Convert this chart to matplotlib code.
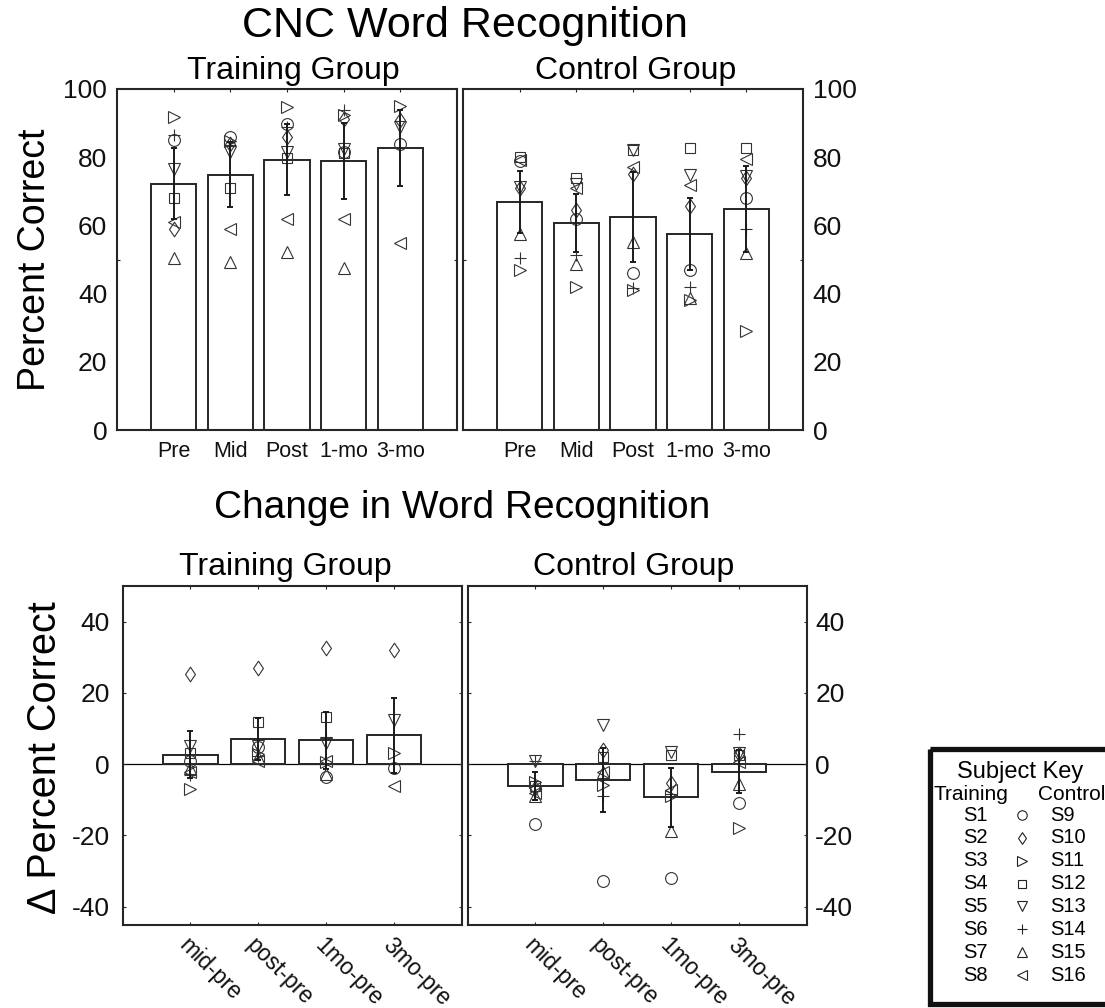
import numpy as np
import matplotlib
matplotlib.use('Agg')
import matplotlib.pyplot as plt
from matplotlib.patches import Rectangle
from matplotlib.path import Path

plt.rcParams['font.family'] = ['Liberation Sans', 'DejaVu Sans']
plt.rcParams['axes.unicode_minus'] = False

W, H = 1105, 1008
INK = '#262626'

sessions = ['Pre', 'Mid', 'Post', '1-mo', '3-mo']
changes = ['mid-pre', 'post-pre', '1mo-pre', '3mo-pre']

# wide-ish diamond, closer to the usual plotting-package symbol than 'd'
diamond = Path([(0, 1), (0.68, 0), (0, -1), (-0.68, 0), (0, 1)],
               [Path.MOVETO, Path.LINETO, Path.LINETO, Path.LINETO,
                Path.CLOSEPOLY])

# one marker per subject pair (training S1-S8 / control S9-S16)
markers = ['o', diamond, '>', 's', 'v', '+', '^', '<']
marker_sizes = [8.5, 10.5, 8.5, 7, 8.5, 8.5, 8.5, 8.5]
train_ids = ['S1', 'S2', 'S3', 'S4', 'S5', 'S6', 'S7', 'S8']
ctrl_ids = ['S9', 'S10', 'S11', 'S12', 'S13', 'S14', 'S15', 'S16']

# percent correct per subject, in subject order
train_pre = [85.0, 58.8, 91.8, 67.9, 76.5, 86.6, 50.3, 61.0]
train_mid = [86.0, 84.0, 84.8, 71.0, 81.5, 83.6, 49.3, 58.8]
train_post = [89.8, 85.9, 94.7, 79.8, 81.5, 88.9, 52.2, 61.8]
train_1mo = [81.5, 91.3, 92.3, 81.1, 82.5, 93.9, 47.4, 61.8]
train_3mo = [84.0, 90.8, 94.9, np.nan, 88.9, np.nan, np.nan, 54.9]

ctrl_pre = [78.9, 71.1, 46.9, 80.1, 71.3, 50.3, 57.4, 79.1]
ctrl_mid = [62.0, 64.5, 42.0, 74.0, 72.1, 51.3, 48.6, 71.1]
ctrl_post = [46.1, 75.0, 41.0, 82.0, 82.2, 41.5, 55.2, 77.0]
ctrl_1mo = [46.9, 65.7, 38.1, 82.7, 74.7, 42.0, 38.6, 71.8]
ctrl_3mo = [67.9, 74.0, 29.1, 82.8, 74.4, 58.8, 51.8, 79.6]

# 95% confidence half-widths
train_ci = [10.5, 9.6, 10.3, 11.2, 11.0]
ctrl_ci = [9.2, 8.5, 13.3, 10.5, 12.5]
train_change_ci = [6.6, 6.0, 8.0, 10.5]
ctrl_change_ci = [3.9, 9.0, 8.2, 6.0]


def px_rect(x0, y0, x1, y1):
    return [x0 / W, 1 - y1 / H, (x1 - x0) / W, (y1 - y0) / H]


def style_axes(ax):
    for s in ax.spines.values():
        s.set_color(INK)
        s.set_linewidth(1.5)


def draw_group(ax, table, ci, labels):
    table = np.array(table, dtype=float)     # sessions x subjects
    x = np.arange(1, table.shape[0] + 1)
    means = np.nanmean(table, axis=1)
    ax.bar(x, means, width=0.8, facecolor='white', edgecolor=INK,
           linewidth=1.4, zorder=2)
    for j, (m, ms) in enumerate(zip(markers, marker_sizes)):
        ax.plot(x, table[:, j], marker=m, mfc='none', mec='#333333',
                ms=ms, mew=0.8, zorder=3, linestyle='none')
    ax.errorbar(x, means, yerr=ci, fmt='none', ecolor='#1a1a1a',
                elinewidth=1.4, capsize=2, capthick=1.4, zorder=4)
    ax.set_xlim(0, len(x) + 1)
    ax.set_xticks(x)
    ax.set_xticklabels(labels)
    style_axes(ax)


fig = plt.figure(figsize=(W / 100, H / 100), dpi=100)

# --- top row: raw scores
train_tab = np.array([train_pre, train_mid, train_post, train_1mo, train_3mo])
ctrl_tab = np.array([ctrl_pre, ctrl_mid, ctrl_post, ctrl_1mo, ctrl_3mo])

ax_tt = fig.add_axes(px_rect(117, 89, 457, 430))
ax_tc = fig.add_axes(px_rect(463, 89, 803, 430))
for ax, tab, ci in [(ax_tt, train_tab, train_ci), (ax_tc, ctrl_tab, ctrl_ci)]:
    draw_group(ax, tab, ci, sessions)
    ax.set_ylim(0, 100)
    ax.set_yticks(np.arange(0, 101, 20))
    ax.set_yticks([50], minor=True)
    ax.tick_params(axis='x', direction='in', top=True, length=2.5,
                   width=0.8, labelsize=15.5, pad=8, colors=INK,
                   labelcolor='#111111')
    ax.tick_params(axis='y', which='major', length=0, labelsize=19,
                   pad=7, labelcolor='#111111')
    ax.tick_params(axis='y', which='minor', direction='in', left=True,
                   right=True, length=2.5, width=0.8, colors=INK)
ax_tc.tick_params(axis='y', which='major', labelleft=False, labelright=True)

# --- bottom row: change from pre
train_diff = train_tab[1:] - train_tab[0]
ctrl_diff = ctrl_tab[1:] - ctrl_tab[0]

ax_bt = fig.add_axes(px_rect(122.5, 586, 462, 924.5))
ax_bc = fig.add_axes(px_rect(467.5, 586, 807, 924.5))
for ax, tab, ci in [(ax_bt, train_diff, train_change_ci),
                    (ax_bc, ctrl_diff, ctrl_change_ci)]:
    ax.axhline(0, color='black', linewidth=0.9, zorder=1.5)
    draw_group(ax, tab, ci, changes)
    ax.set_ylim(-45, 50)
    ax.set_yticks(np.arange(-40, 41, 20))
    ax.tick_params(axis='x', direction='in', top=True, length=2.5,
                   width=0.8, colors=INK, labelcolor='#111111', pad=7)
    ax.tick_params(axis='y', direction='in', left=True, right=True,
                   length=2.5, width=0.8, labelsize=19, pad=9,
                   colors=INK, labelcolor='#111111')
    for lab in ax.get_xticklabels():
        lab.set_rotation(-45)
        lab.set_rotation_mode('anchor')
        lab.set_ha('left')
        lab.set_va('top')
        lab.set_fontsize(16.5)
ax_bc.tick_params(axis='y', labelleft=False, labelright=True, pad=6)

# --- titles and axis labels
fig.text(465 / W, 1 - 37 / H, 'CNC Word Recognition', ha='center',
         va='baseline', fontsize=31)
fig.text(293 / W, 1 - 79 / H, 'Training Group', ha='center',
         va='baseline', fontsize=23)
fig.text(636 / W, 1 - 79 / H, 'Control Group', ha='center',
         va='baseline', fontsize=23)
fig.text(462 / W, 1 - 518 / H, 'Change in Word Recognition', ha='center',
         va='baseline', fontsize=28)
fig.text(285 / W, 1 - 575 / H, 'Training Group', ha='center',
         va='baseline', fontsize=23)
fig.text(634 / W, 1 - 575 / H, 'Control Group', ha='center',
         va='baseline', fontsize=23)
fig.text(35 / W, 1 - 260 / H, 'Percent Correct', ha='center',
         va='center', rotation=90, fontsize=27)
fig.text(45 / W, 1 - 758 / H, '\u0394 Percent Correct', ha='center',
         va='center', rotation=90, fontsize=28.5)

# --- subject key
ax_key = fig.add_axes(px_rect(928, 745, 1112, 1006))
ax_key.set_xlim(928, 1112)
ax_key.set_ylim(1006, 745)
ax_key.axis('off')
ax_key.add_patch(Rectangle((930, 748.5), 190, 255, fill=False,
                           edgecolor='#111111', linewidth=3.8,
                           clip_on=False))
ax_key.text(1020, 772, 'Subject Key', ha='center', va='center',
            fontsize=17)
ax_key.text(933, 794, 'Training', ha='left', va='center', fontsize=15)
ax_key.text(1105, 794, 'Control', ha='right', va='center', fontsize=15)
row_y = 815 + np.arange(len(markers)) * 22.86
for yy, m, ms, t, c in zip(row_y, markers, marker_sizes, train_ids, ctrl_ids):
    ax_key.text(963, yy, t, ha='left', va='center', fontsize=14.5)
    ax_key.plot([1021.5], [yy], marker=m, mfc='none', mec='#222222',
                ms=ms * 0.8, mew=0.8, linestyle='none')
    ax_key.text(1050, yy, c, ha='left', va='center', fontsize=14.5)

fig.savefig('out.png', dpi=100)
